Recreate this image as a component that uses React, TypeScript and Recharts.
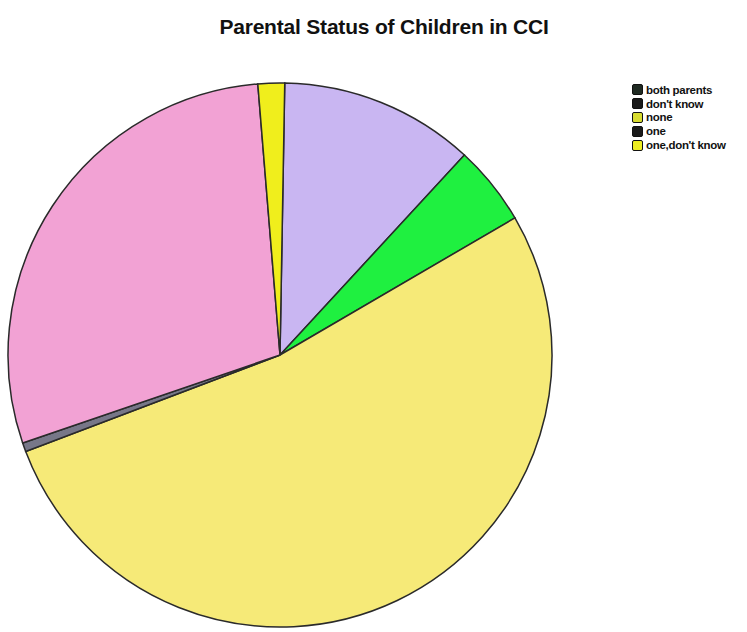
import React from 'react';
import { PieChart, Pie, Cell, Legend } from 'recharts';

// slices, clockwise from 12 o'clock
const sliceNames = ['both parents', "don't know", 'none', 'one', "one,don't know", 'other'];
const sliceValues = [22, 9, 100, 1, 55, 3];
const sliceColors = ['#c9b6f2', '#1ff040', '#f6ea78', '#777788', '#f2a2d4', '#f0ee1c'];

// legend as printed
const legendLabels = ['both parents', "don't know", 'none', 'one', "one,don't know"];
const legendColors = ['#1f2a22', '#1a1a1a', '#d8dc30', '#1a1a1a', '#eeee22'];

const data = sliceNames.map((name, i) => ({ name, value: sliceValues[i] }));

const LegendBox = () => (
  <div style={{ fontFamily: 'Liberation Sans, Arial, sans-serif', fontSize: 11.5, fontWeight: 700, color: '#111' }}>
    {legendLabels.map((label, i) => (
      <div key={label} style={{ display: 'flex', alignItems: 'center', height: 13.8 }}>
        <span
          style={{
            display: 'inline-block',
            width: 9,
            height: 9,
            background: legendColors[i],
            border: '1.5px solid #111',
            borderRadius: 2,
            marginRight: 3,
          }}
        />
        <span style={{ letterSpacing: -0.3, whiteSpace: 'nowrap' }}>{label}</span>
      </div>
    ))}
  </div>
);

export default function App() {
  return (
    <div style={{ position: 'absolute', left: 0, top: 0, width: 747, height: 632, background: '#fff', overflow: 'hidden' }}>
      <div
        style={{
          position: 'absolute',
          top: 15,
          left: 0,
          width: 768,
          textAlign: 'center',
          fontFamily: 'Liberation Sans, Arial, sans-serif',
          fontWeight: 700,
          fontSize: 21,
          letterSpacing: -0.2,
          color: '#111',
        }}
      >
        Parental Status of Children in CCI
      </div>
      <PieChart width={747} height={632} margin={{ top: 0, right: 0, bottom: 0, left: 0 }}>
        <Pie
          data={data}
          dataKey="value"
          nameKey="name"
          cx={280}
          cy={355}
          outerRadius={272}
          startAngle={89}
          endAngle={-271}
          stroke="#2a2a2a"
          strokeWidth={1.5}
          isAnimationActive={false}
        >
          {data.map((d, i) => (
            <Cell key={d.name} fill={sliceColors[i]} />
          ))}
        </Pie>
        <Legend
          layout="vertical"
          align="right"
          verticalAlign="top"
          wrapperStyle={{ position: 'absolute', left: 632, top: 83, width: 115 }}
          content={() => <LegendBox />}
        />
      </PieChart>
    </div>
  );
}
